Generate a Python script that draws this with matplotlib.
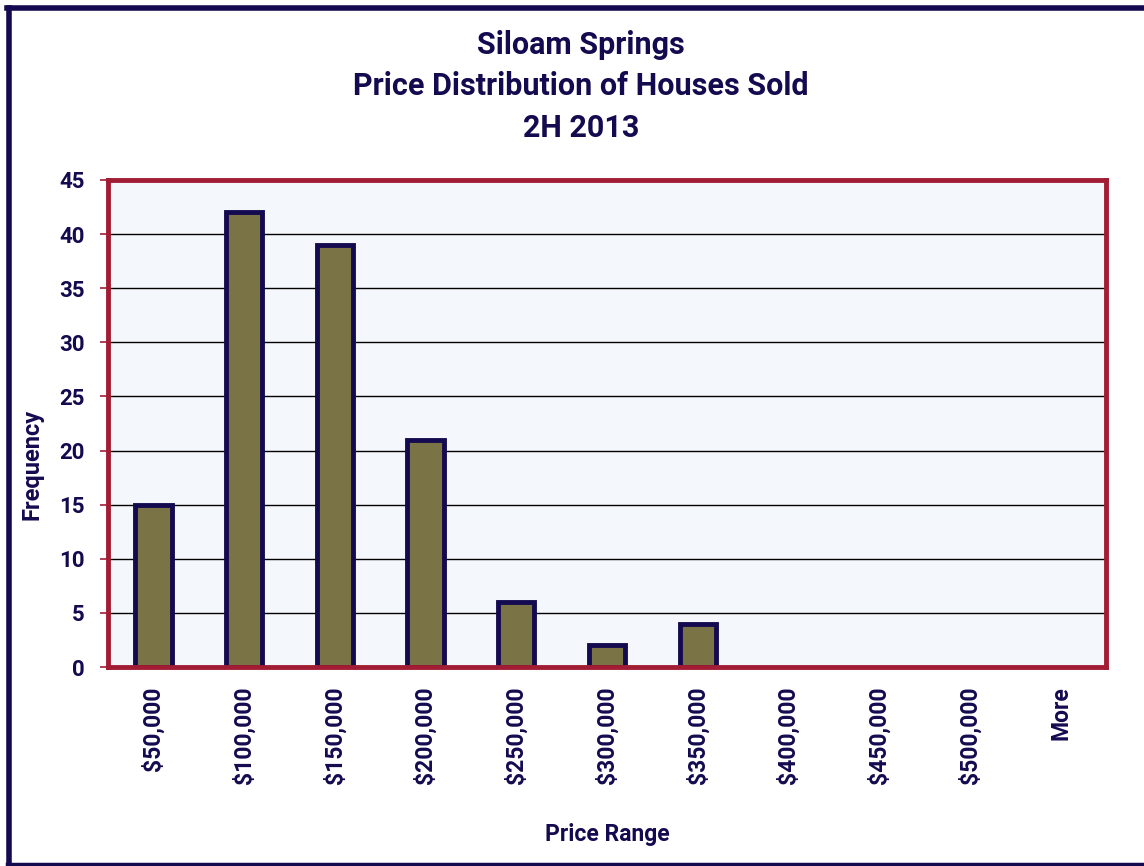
import matplotlib
matplotlib.use("Agg")
import matplotlib.pyplot as plt
from matplotlib.lines import Line2D

# Price bins and number of houses sold in each
categories = ["$50,000", "$100,000", "$150,000", "$200,000", "$250,000",
              "$300,000", "$350,000", "$400,000", "$450,000", "$500,000", "More"]
frequency = [15, 42, 39, 21, 6, 2, 4, 0, 0, 0, 0]
y_ticks = [0, 5, 10, 15, 20, 25, 30, 35, 40, 45]

navy = "#140A4F"
bar_face = "#7A7346"
frame_red = "#A21C34"
plot_bg = "#F4F7FB"

plt.rcParams['font.family'] = ['Roboto', 'DejaVu Sans']
plt.rcParams['font.weight'] = 'bold'

W, H = 1144, 866
fig = plt.figure(figsize=(W / 100, H / 100), dpi=100)
fig.patch.set_facecolor("white")

# plot area in pixel coords: left 108, right 1106, top 180, bottom 667
ax = fig.add_axes([108 / W, 1 - 667 / H, (1106 - 108) / W, (667 - 180) / H])
ax.set_facecolor(plot_bg)

x = list(range(len(categories)))
edges = [navy if v > 0 else "none" for v in frequency]
ax.bar(x, frequency, width=0.4, color=bar_face, edgecolor=edges,
       linewidth=3.5, zorder=3)

ax.set_xlim(-0.5, len(categories) - 0.5)
ax.set_ylim(0, 45)
ax.set_yticks(y_ticks)
ax.yaxis.grid(True, color="black", linewidth=1.0, zorder=1)
ax.set_axisbelow(True)

for side in ax.spines.values():
    side.set_color(frame_red)
    side.set_linewidth(3.5)
    side.set_zorder(4)

ax.set_xticks(x)
ax.set_xticklabels(categories, rotation=90, fontsize=16.5, fontweight='bold',
                   color=navy)
ax.tick_params(axis='x', length=0, pad=14)
ax.tick_params(axis='y', length=6, width=1.2, color=frame_red, labelsize=16,
               labelcolor=navy, pad=11)
for lab in ax.get_yticklabels():
    lab.set_fontweight('bold')

fig.text(0.5 * (108 + 1106) / W, 1 - 835 / H, "Price Range", ha='center',
         va='center', fontsize=16.5, fontweight='bold', color=navy)
fig.text(32 / W, 1 - 464 / H, "Frequency", ha='center', va='center',
         rotation=90, fontsize=17, fontweight='bold', color=navy)

title_lines = ["Siloam Springs", "Price Distribution of Houses Sold", "2H 2013"]
for line, ypx in zip(title_lines, [45, 86, 128]):
    fig.text(581 / W, 1 - ypx / H, line, ha='center', va='center',
             fontsize=22, fontweight='bold', color=navy)

# chart border (left, top, bottom)
fig.add_artist(Line2D([9 / W, 9 / W], [1 - 864 / H, 1 - 8 / H],
                      transform=fig.transFigure, color=navy, linewidth=4))
fig.add_artist(Line2D([7 / W, 1.0], [1 - 8 / H, 1 - 8 / H],
                      transform=fig.transFigure, color=navy, linewidth=4))
fig.add_artist(Line2D([7 / W, 1.0], [1 - 864 / H, 1 - 864 / H],
                      transform=fig.transFigure, color=navy, linewidth=2.5))

fig.savefig("out.png", dpi=100)
